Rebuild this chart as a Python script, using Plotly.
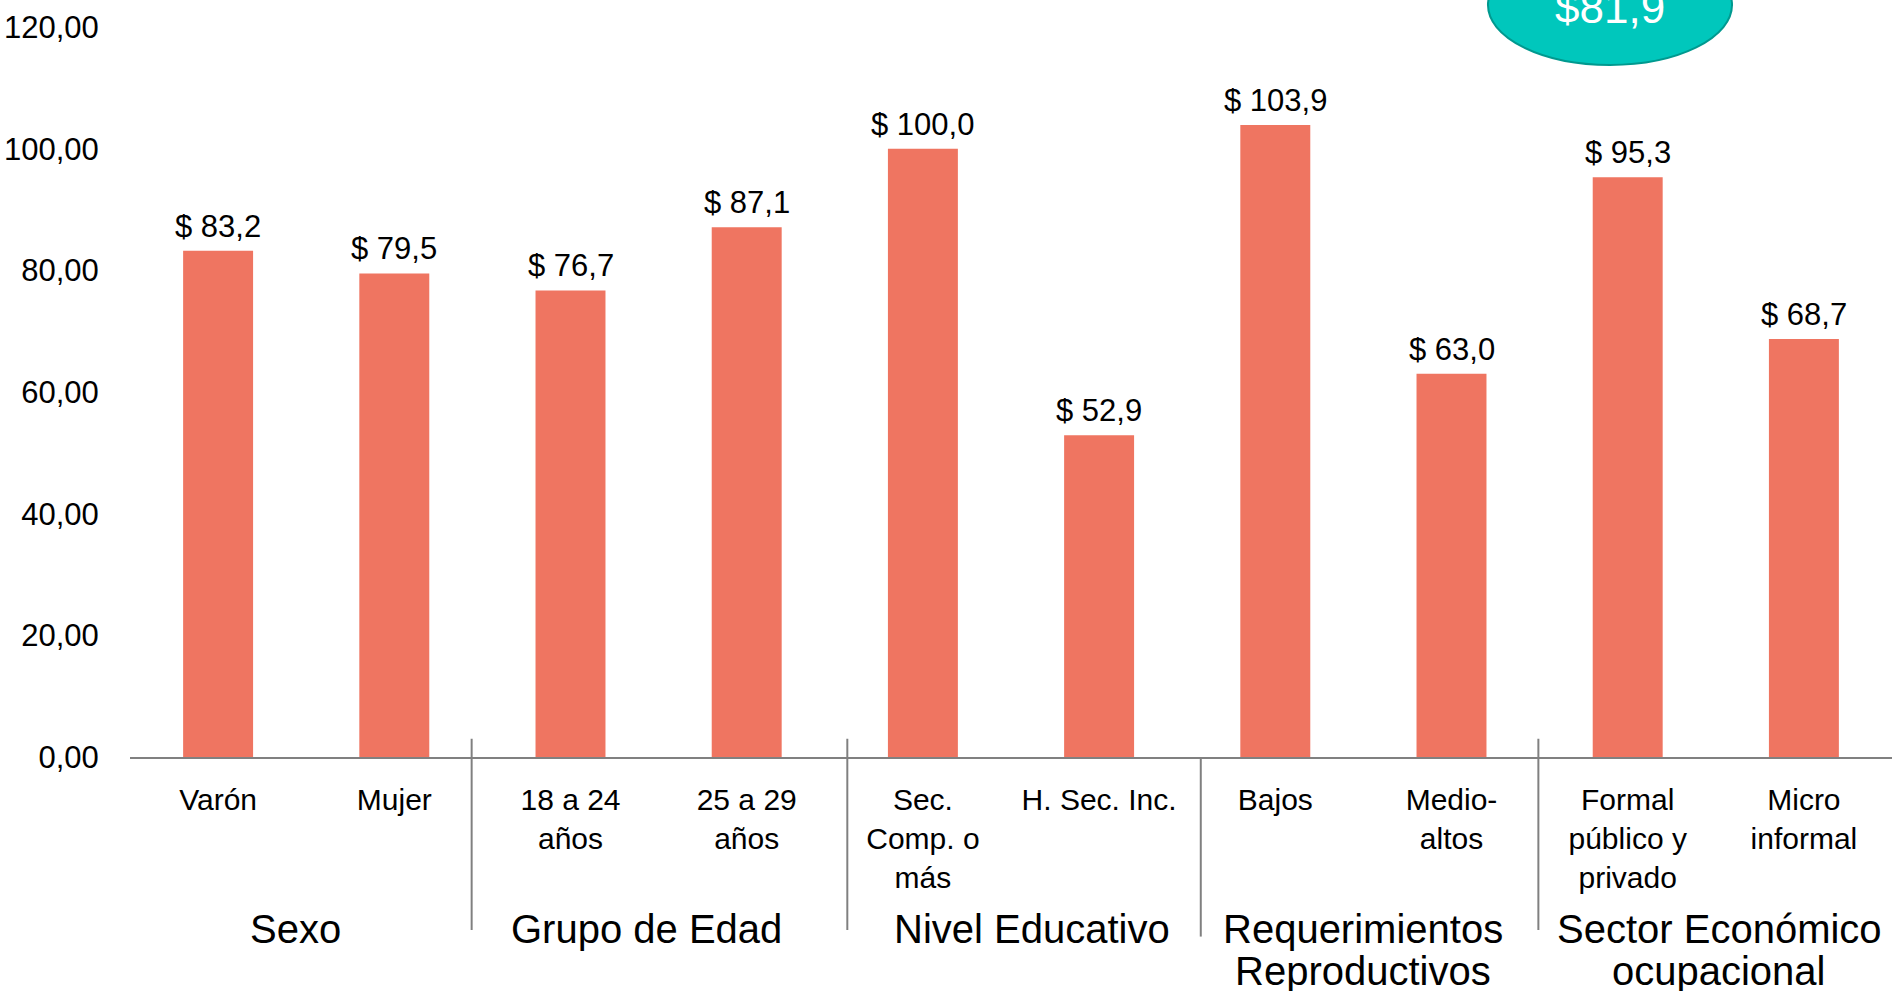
import plotly.graph_objects as go

categories = ["Varón", "Mujer", "18 a 24<br>años", "25 a 29<br>años",
              "Sec.<br>Comp. o<br>más", "H. Sec. Inc.", "Bajos", "Medio-<br>altos",
              "Formal<br>público y<br>privado", "Micro<br>informal"]
values = [83.2, 79.5, 76.7, 87.1, 100.0, 52.9, 103.9, 63.0, 95.3, 68.7]
groups = ["Sexo", "Grupo de Edad", "Nivel Educativo",
          "Requerimientos<br>Reproductivos", "Sector Económico<br>ocupacional"]
group_pos = [0.44, 2.43, 4.62, 6.5, 8.52]
separators_x = [1.439, 3.571, 5.577, 7.493]
separators_top = [0.025, 0.025, 0.0, 0.025]
separators_bottom = [-0.237, -0.237, -0.246, -0.237]
overall_label = "$81,9"
y_ticks = [0, 20, 40, 60, 80, 100, 120]

FONT = "Liberation Sans"
labels = ["$ " + f"{v:.1f}".replace(".", ",") for v in values]
idx = list(range(len(categories)))

fig = go.Figure()
fig.add_trace(go.Bar(
    x=idx, y=values, marker_color="#EF7561", marker_line_width=0,
))

shapes = []
for sx, st, sb in zip(separators_x, separators_top, separators_bottom):
    shapes.append(dict(type="line", xref="x", yref="paper", x0=sx, x1=sx, y0=st, y1=sb,
                       line=dict(color="#808080", width=2)))
shapes.append(dict(type="circle", xref="paper", yref="paper",
                   x0=0.7707, x1=0.9092, y0=0.948, y1=1.112,
                   fillcolor="#00C7BC", line=dict(color="#00998F", width=2), layer="above"))

annotations = []
for i, (v, lab) in enumerate(zip(values, labels)):
    annotations.append(dict(text=lab, x=i, xref="x", y=v, yref="y", yanchor="bottom",
                            xanchor="center", yshift=5, showarrow=False,
                            font=dict(family=FONT, size=31, color="#000000")))
for g, gx in zip(groups, group_pos):
    for k, line in enumerate(g.split("<br>")):
        annotations.append(dict(text=line, x=gx, xref="x", y=-0.2356, yref="paper",
                                yanchor="middle", xanchor="center", yshift=-42 * k,
                                showarrow=False,
                                font=dict(family=FONT, size=40, color="#000000")))
annotations.append(dict(text=overall_label, x=0.840, xref="paper", y=1.027, yref="paper",
                        xanchor="center", yanchor="middle", showarrow=False,
                        font=dict(family=FONT, size=44, color="#FFFFFF")))

fig.update_layout(
    width=1892, height=991, autosize=False,
    margin=dict(l=130, r=0, t=27, b=234, pad=0),
    plot_bgcolor="white", paper_bgcolor="white",
    showlegend=False, bargap=0.603,
    separators=",.",
    shapes=shapes, annotations=annotations,
    xaxis=dict(range=[-0.5, 9.5], tickvals=idx, ticktext=categories,
               showline=True, linecolor="#808080", linewidth=2, showgrid=False,
               zeroline=False, ticks="outside", ticklen=15, tickcolor="rgba(0,0,0,0)",
               tickfont=dict(family=FONT, size=30, color="#000000")),
    yaxis=dict(range=[0, 120], tickvals=y_ticks, tickformat=".2f", showgrid=False,
               zeroline=False, showline=False, ticks="outside", ticklen=24,
               tickcolor="rgba(0,0,0,0)",
               tickfont=dict(family=FONT, size=31, color="#000000")),
)

fig.write_html("out.html", config={"displayModeBar": False},
               post_script="document.body.style.margin='0';document.body.style.overflow='hidden';")
